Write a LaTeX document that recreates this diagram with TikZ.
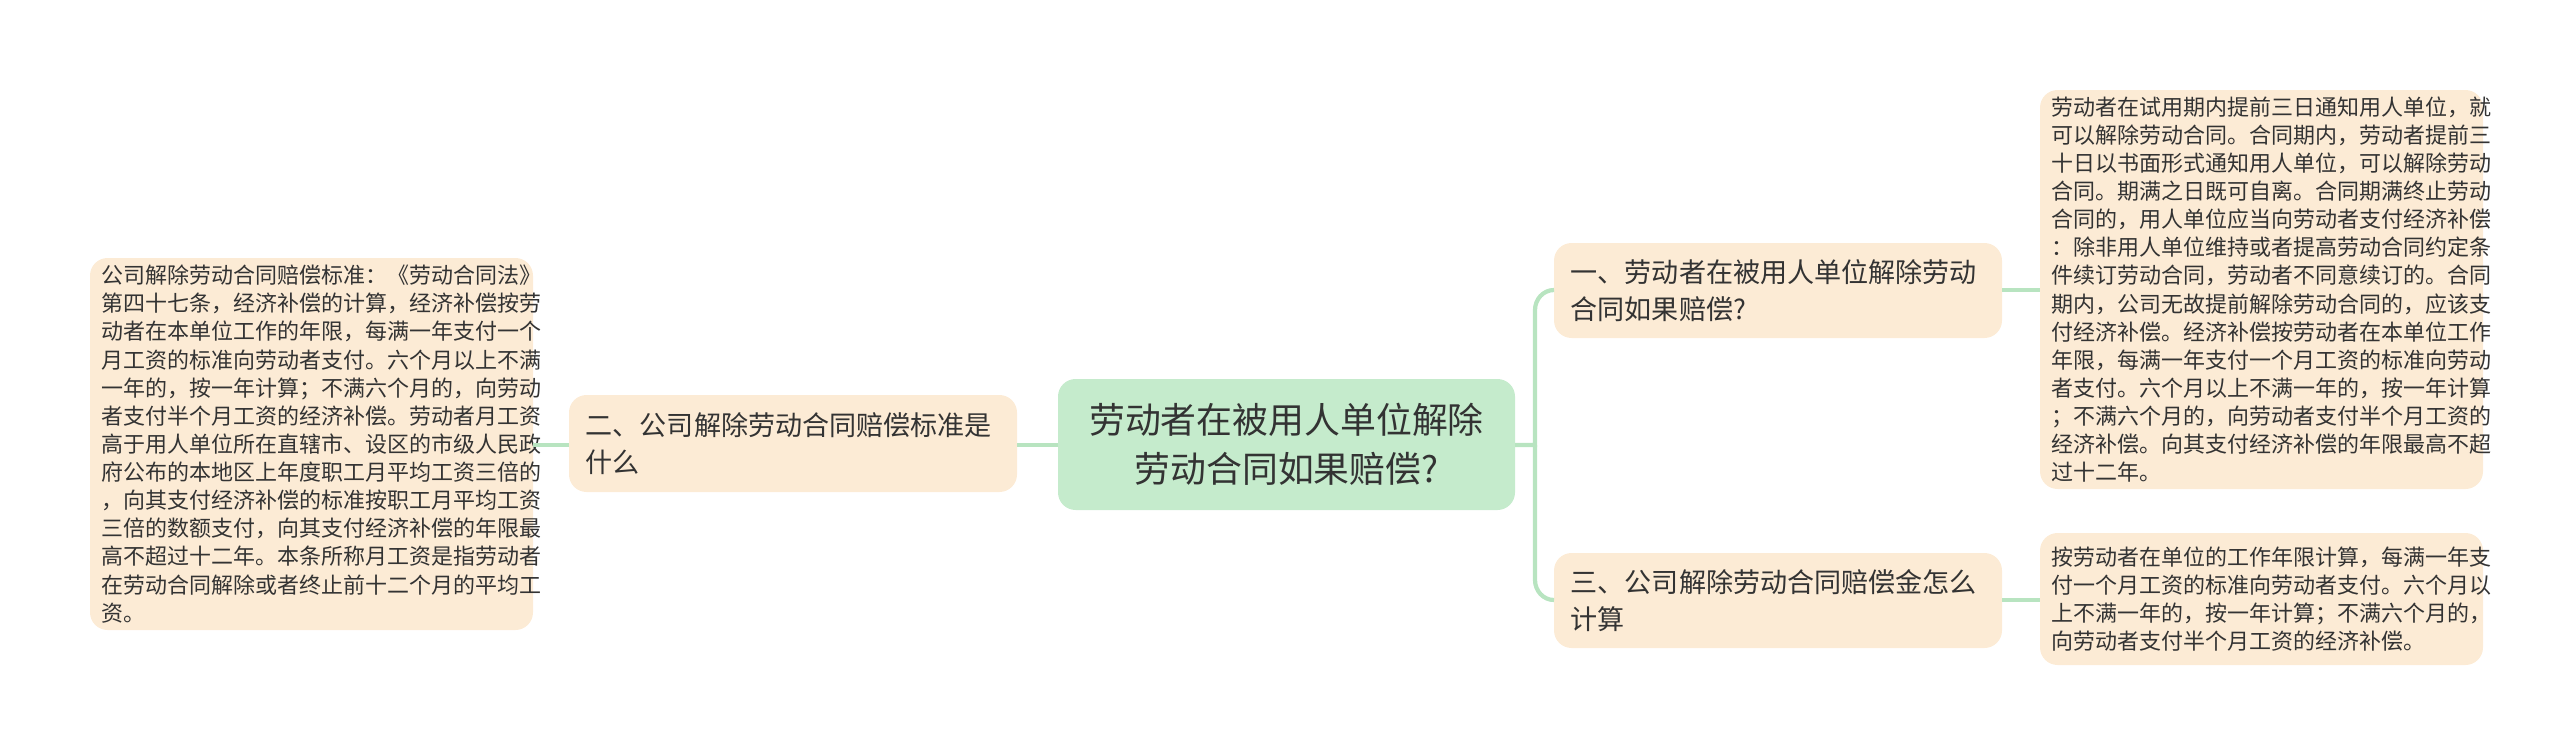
\documentclass[tikz,border=0pt]{standalone}
\usepackage{fontspec}
\setmainfont{Noto Sans CJK SC}
\begin{document}
\begin{tikzpicture}[x=0.01cm,y=-0.01cm,
  leaf/.style={font=\fontsize{6.25pt}{8pt}\selectfont,align=left,inner sep=0pt,anchor=west,text=txt},
  mid/.style={font=\fontsize{7.7pt}{10.6pt}\selectfont,align=left,inner sep=0pt,anchor=west,text=txt},
  link/.style={draw=lnk,line width=1.2pt}]
\definecolor{peach}{HTML}{FCEBD5}
\definecolor{cgreen}{HTML}{C5EBCC}
\definecolor{lnk}{HTML}{B8E4C0}
\definecolor{txt}{HTML}{333333}
\useasboundingbox (0,0) rectangle (2560,751);
\fill[cgreen,rounded corners=5pt] (1058,379) rectangle (1515,510);
\node[text=txt,inner sep=0pt,font=\fontsize{10.2pt}{14pt}\selectfont,align=center] (c) at (1286.5,444.5) {劳动者在被用人单位解除\\劳动合同如果赔偿?};
\coordinate (cL) at (1058,445); \coordinate (cR) at (1515,445);

\fill[peach,rounded corners=5pt] (569,395) rectangle (1017,492);
\node[mid] (m) at (585,443.5) {二、公司解除劳动合同赔偿标准是\\什么};
\coordinate (mL) at (569,445); \coordinate (mR) at (1017,445);

\fill[peach,rounded corners=5pt] (90,258) rectangle (533,630);
\node[leaf] (l) at (101,444) {公司解除劳动合同赔偿标准：《劳动合同法》\\第四十七条，经济补偿的计算，经济补偿按劳\\动者在本单位工作的年限，每满一年支付一个\\月工资的标准向劳动者支付。六个月以上不满\\一年的，按一年计算；不满六个月的，向劳动\\者支付半个月工资的经济补偿。劳动者月工资\\高于用人单位所在直辖市、设区的市级人民政\\府公布的本地区上年度职工月平均工资三倍的\\，向其支付经济补偿的标准按职工月平均工资\\三倍的数额支付，向其支付经济补偿的年限最\\高不超过十二年。本条所称月工资是指劳动者\\在劳动合同解除或者终止前十二个月的平均工\\资。};
\coordinate (lR) at (533,445);

\fill[peach,rounded corners=5pt] (1554,243) rectangle (2002,338);
\node[mid] (r1) at (1570,290.5) {一、劳动者在被用人单位解除劳动\\合同如果赔偿?};
\coordinate (r1L) at (1554,290); \coordinate (r1R) at (2002,290);

\fill[peach,rounded corners=5pt] (1554,553) rectangle (2002,648);
\node[mid] (r2) at (1570,600.5) {三、公司解除劳动合同赔偿金怎么\\计算};
\coordinate (r2L) at (1554,600); \coordinate (r2R) at (2002,600);

\fill[peach,rounded corners=5pt] (2040,90) rectangle (2483,489);
\node[leaf] (t1) at (2051,289.5) {劳动者在试用期内提前三日通知用人单位，就\\可以解除劳动合同。合同期内，劳动者提前三\\十日以书面形式通知用人单位，可以解除劳动\\合同。期满之日既可自离。合同期满终止劳动\\合同的，用人单位应当向劳动者支付经济补偿\\：除非用人单位维持或者提高劳动合同约定条\\件续订劳动合同，劳动者不同意续订的。合同\\期内，公司无故提前解除劳动合同的，应该支\\付经济补偿。经济补偿按劳动者在本单位工作\\年限，每满一年支付一个月工资的标准向劳动\\者支付。六个月以上不满一年的，按一年计算\\；不满六个月的，向劳动者支付半个月工资的\\经济补偿。向其支付经济补偿的年限最高不超\\过十二年。};
\coordinate (t1L) at (2040,290);

\fill[peach,rounded corners=5pt] (2040,533) rectangle (2483,665);
\node[leaf] (t2) at (2051,599) {按劳动者在单位的工作年限计算，每满一年支\\付一个月工资的标准向劳动者支付。六个月以\\上不满一年的，按一年计算；不满六个月的，\\向劳动者支付半个月工资的经济补偿。};
\coordinate (t2L) at (2040,600);

\draw[link] (cL) -- (mR);
\draw[link] (mL) -- (lR);
\draw[link] (cR) -- (1535,445) -- (1535,310) to[out=90,in=180] (r1L);
\draw[link] (1535,445) -- (1535,580) to[out=-90,in=180] (r2L);
\draw[link] (r1R) -- (t1L);
\draw[link] (r2R) -- (t2L);
\end{tikzpicture}
\end{document}
